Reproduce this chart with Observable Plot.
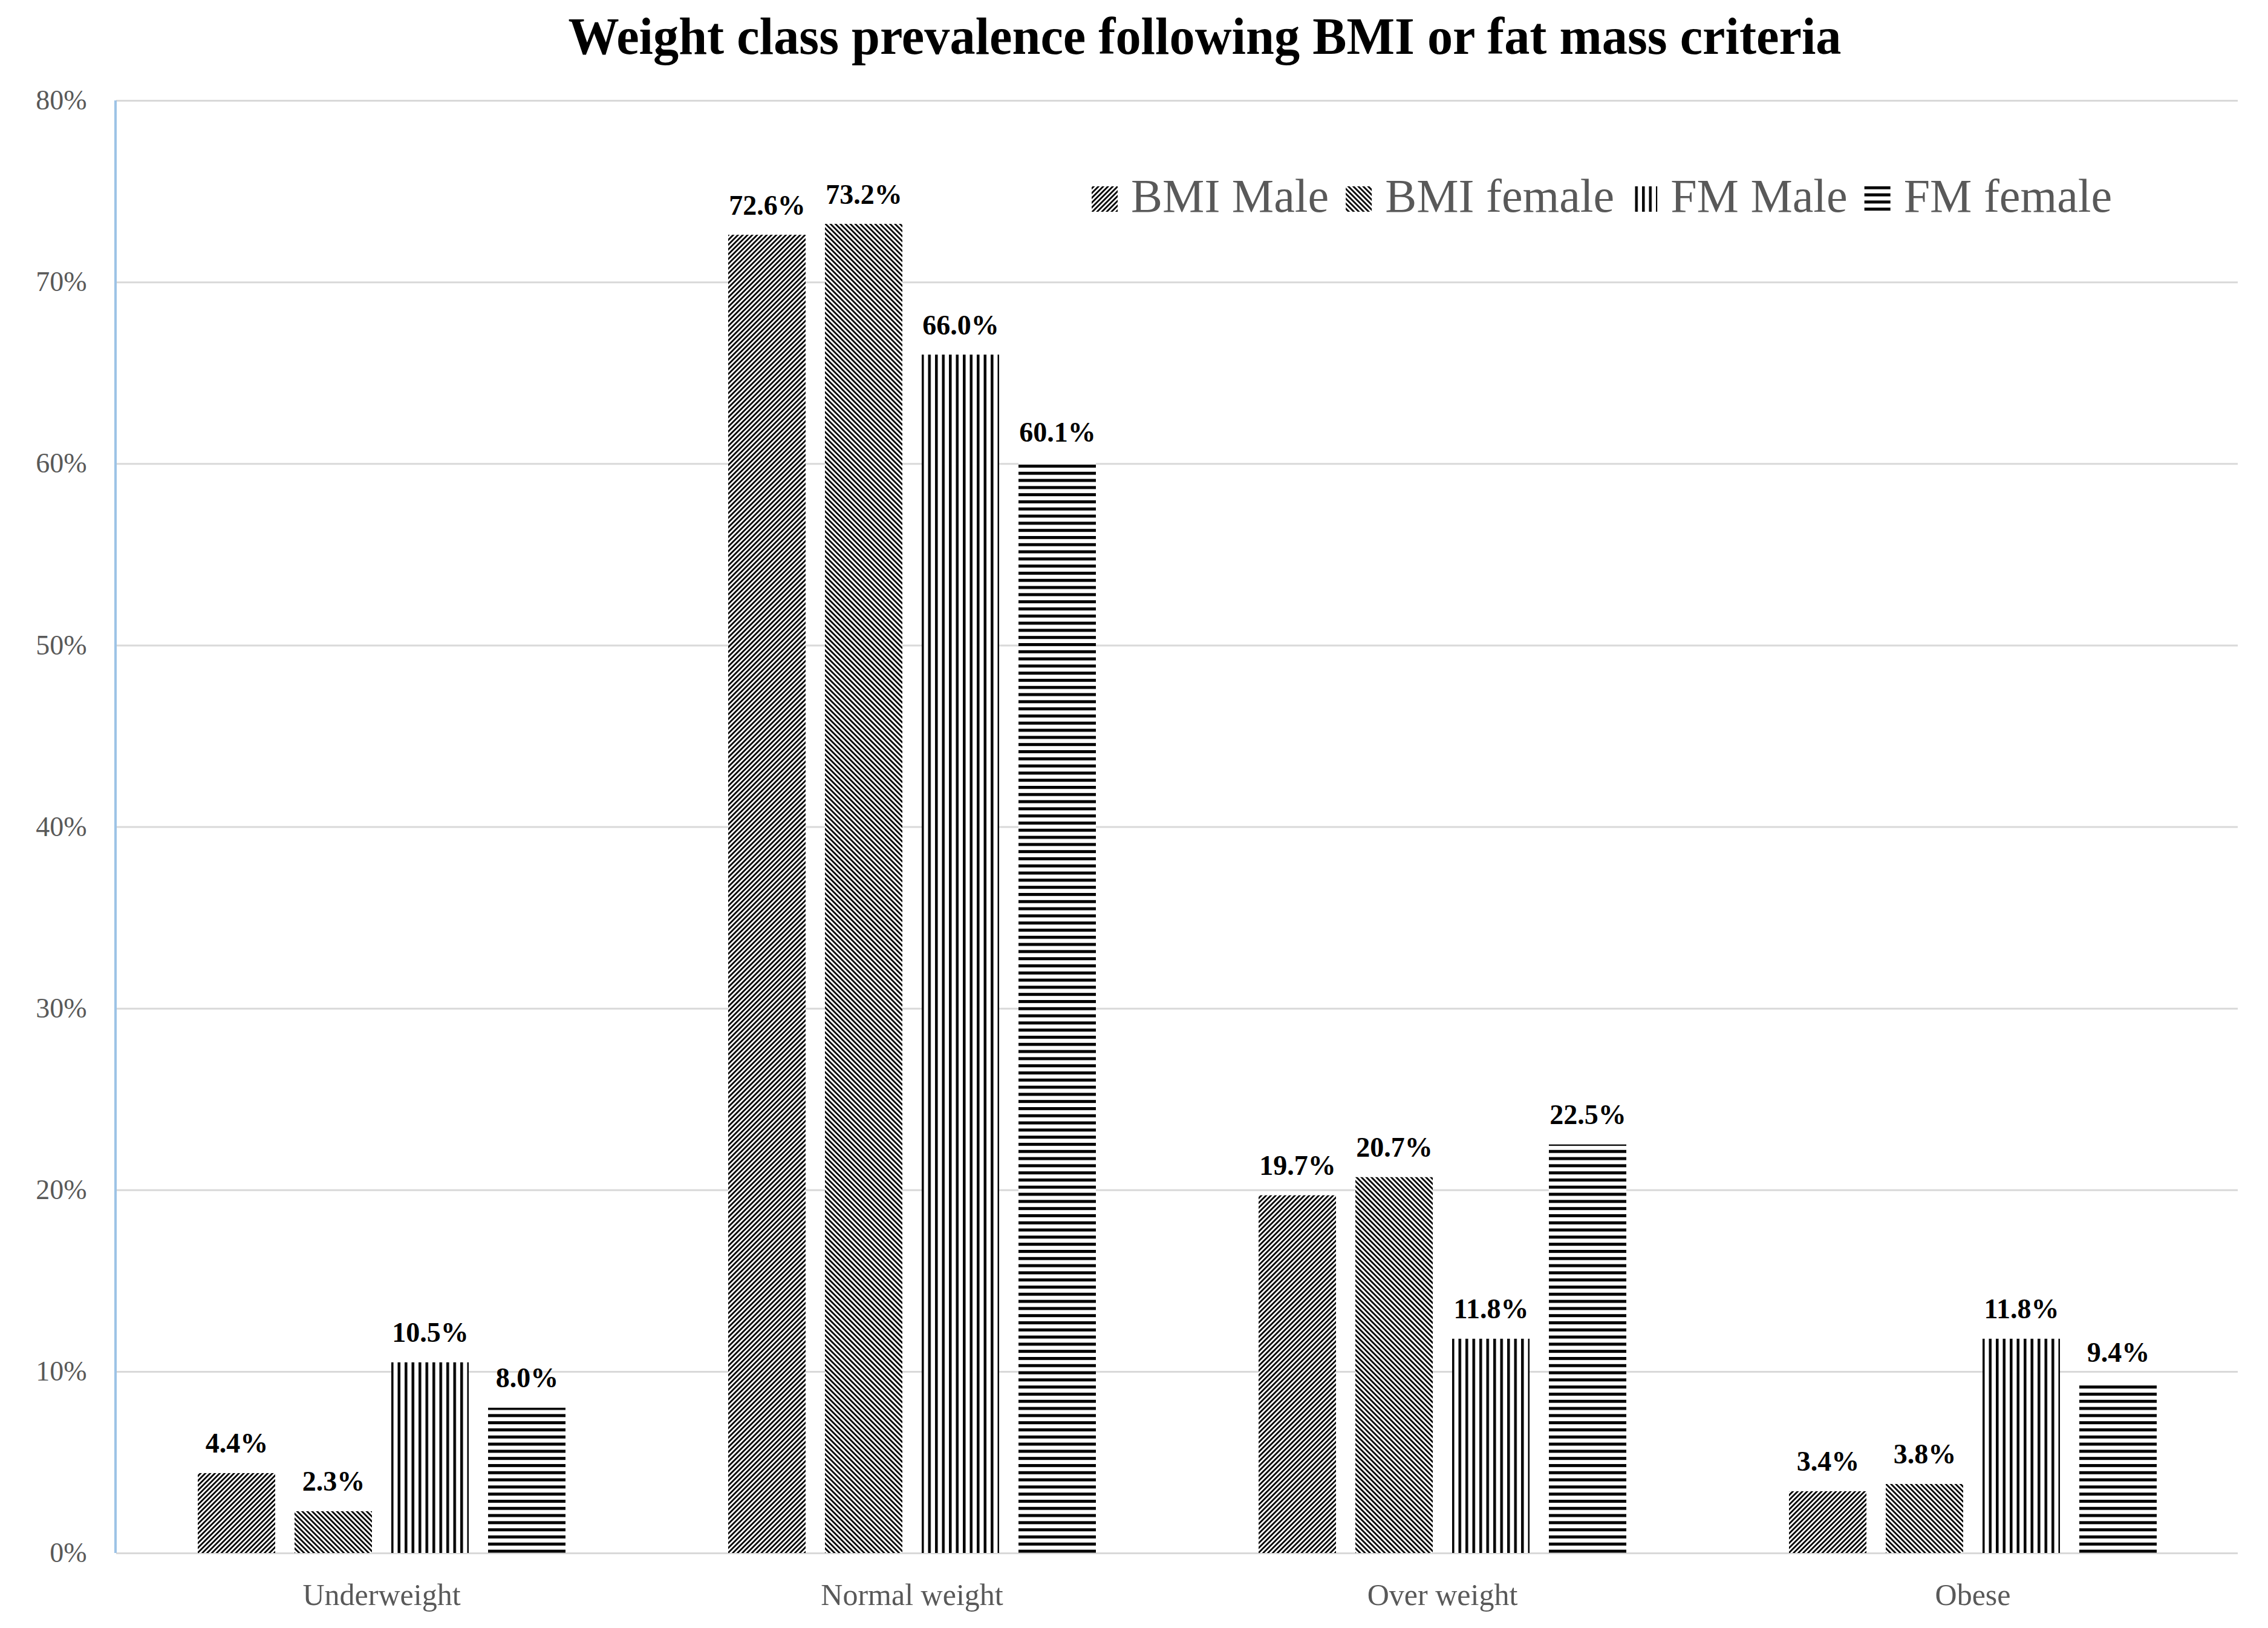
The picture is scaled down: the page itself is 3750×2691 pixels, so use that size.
<!DOCTYPE html>
<html>
<head>
<meta charset="utf-8">
<script src="https://cdn.jsdelivr.net/npm/d3@7"></script>
<script src="https://cdn.jsdelivr.net/npm/@observablehq/plot@0.6"></script>
<style>
html, body { margin: 0; padding: 0; background: #fff; }
#wrap { position: relative; width: 3750px; height: 2691px; overflow: hidden; background: #fff; }
#wrap > svg { position: absolute; left: 0; top: 0; }
</style>
</head>
<body>
<svg width="0" height="0" style="position:absolute">
  <defs>
    <pattern id="pat-bmi-male" patternUnits="userSpaceOnUse" width="5.6" height="20" patternTransform="rotate(45)">
      <rect width="5.6" height="20" fill="#fff"/>
      <rect width="2.8" height="20" fill="#000"/>
    </pattern>
    <pattern id="pat-bmi-female" patternUnits="userSpaceOnUse" width="5.8" height="20" patternTransform="rotate(-45)">
      <rect width="5.8" height="20" fill="#fff"/>
      <rect width="2.8" height="20" fill="#000"/>
    </pattern>
    <pattern id="pat-fm-male" patternUnits="userSpaceOnUse" width="11.5" height="20">
      <rect width="11.5" height="20" fill="#fff"/>
      <rect x="1" width="4.5" height="20" fill="#000"/>
    </pattern>
    <pattern id="pat-fm-female" patternUnits="userSpaceOnUse" width="20" height="11.8">
      <rect width="20" height="11.8" fill="#fff"/>
      <rect y="1" width="20" height="5" fill="#000"/>
    </pattern>
  </defs>
</svg>
<div id="wrap"></div>
<script>
// ---- data ----
const titleText = "Weight class prevalence following BMI or fat mass criteria";
const categories = ["Underweight", "Normal weight", "Over weight", "Obese"];
const series = ["BMI Male", "BMI female", "FM Male", "FM female"];
const bmiMale   = [4.4, 72.6, 19.7, 3.4];
const bmiFemale = [2.3, 73.2, 20.7, 3.8];
const fmMale    = [10.5, 66.0, 11.8, 11.8];
const fmFemale  = [8.0, 60.1, 22.5, 9.4];
const yTicks = [0, 10, 20, 30, 40, 50, 60, 70, 80];
const patternIds = ["pat-bmi-male", "pat-bmi-female", "pat-fm-male", "pat-fm-female"];

const seriesValues = [bmiMale, bmiFemale, fmMale, fmFemale];
const data = categories.flatMap((c, i) =>
  series.map((s, j) => ({category: c, series: s, value: seriesValues[j][i]}))
);

const W = 3750, H = 2691;
const mLeft = 191;
const fontFam = "'Liberation Serif', 'Times New Roman', serif";

const chart = Plot.plot({
  width: W,
  height: H,
  marginTop: 166,
  marginBottom: 124,
  marginLeft: mLeft,
  marginRight: 50,
  style: {fontFamily: fontFam, background: "transparent", overflow: "visible"},
  fx: {domain: categories, padding: 0, label: null},
  x: {domain: series, type: "band", paddingInner: 0.2, paddingOuter: 0.84, axis: null},
  y: {domain: [0, 80], label: null},
  color: {domain: series, range: patternIds.map(id => `url(#${id})`)},
  marks: [
    Plot.gridY(yTicks, {stroke: "#d9d9d9", strokeOpacity: 1, strokeWidth: 3}),
    Plot.axisY({
      ticks: yTicks,
      tickFormat: d => d + "%",
      tickSize: 0,
      tickPadding: 49,
      fontSize: 46,
      fill: "#595959",
      label: null
    }),
    Plot.axisFx({
      anchor: "bottom",
      tickSize: 0,
      tickPadding: 50,
      fontSize: 50,
      fill: "#595959",
      label: null
    }),
    Plot.barY(data, {fx: "category", x: "series", y: "value", fill: "series"}),
    Plot.text(data, {
      fx: "category", x: "series", y: "value",
      text: d => d.value.toFixed(1) + "%",
      lineAnchor: "bottom",
      dy: -34,
      fontSize: 46,
      fontWeight: "bold",
      fill: "#000"
    })
  ]
});

const wrap = document.getElementById("wrap");
wrap.append(chart);

// ---- axis line, title and legend overlay ----
const ov = d3.select(wrap).append("svg")
  .attr("width", W).attr("height", H)
  .style("font-family", fontFam);

const yS = chart.scale("y");
ov.append("line")
  .attr("x1", mLeft).attr("x2", mLeft)
  .attr("y1", yS.apply(d3.max(yTicks))).attr("y2", yS.apply(0))
  .attr("stroke", "#9dc3e6").attr("stroke-width", 4);

ov.append("text")
  .attr("x", 1992).attr("y", 89)
  .attr("text-anchor", "middle")
  .attr("font-size", 86)
  .attr("font-weight", "bold")
  .attr("fill", "#000")
  .attr("textLength", 2105)
  .attr("lengthAdjust", "spacingAndGlyphs")
  .text(titleText);

let lx = 1805;
series.forEach((s, j) => {
  ov.append("rect")
    .attr("x", lx).attr("y", 308).attr("width", 43).attr("height", 42)
    .attr("fill", `url(#${patternIds[j]})`);
  const t = ov.append("text")
    .attr("x", lx + 65).attr("y", 350)
    .attr("font-size", 78)
    .attr("fill", "#595959")
    .text(s);
  const len = t.node().getComputedTextLength();
  lx = lx + 65 + len + 28;
});
</script>
</body>
</html>
